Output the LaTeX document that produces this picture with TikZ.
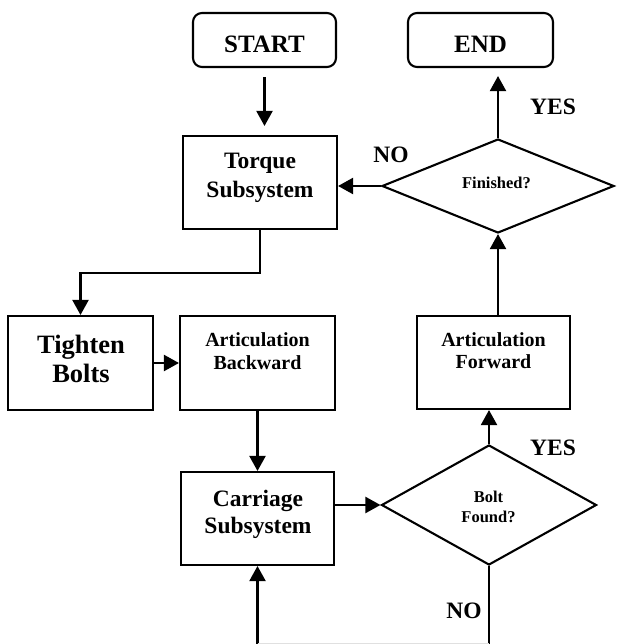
\documentclass[tikz,border=0pt]{standalone}
\usepackage{fontspec}
\setmainfont{Liberation Serif}
\usetikzlibrary{shapes.geometric,arrows.meta}
\begin{document}
\begin{tikzpicture}[x=1pt,y=-1pt,
  line width=2.1pt,
  proc/.style={draw,rectangle,inner sep=0pt},
  term/.style={draw,rectangle,rounded corners=9pt,inner sep=0pt,minimum height=54pt},
  dec/.style={draw,diamond,inner sep=0pt},
  arr/.style={-{Triangle[length=15pt,width=16pt]}},
  txt/.style={anchor=base,inner sep=0pt,font=\bfseries\fontsize{#1}{#1}\selectfont},
  txt/.default=20
]
\useasboundingbox (0,0) rectangle (616,644);
% shapes
\node[term,minimum width=143pt] (start) at (264.5,40) {};
\node[term,minimum width=145pt] (endb) at (480.5,40) {};
\node[proc,minimum width=154pt,minimum height=93pt] (torque) at (260,182.5) {};
\node[proc,minimum width=145pt,minimum height=94pt] (tight) at (80.5,363) {};
\node[proc,minimum width=155pt,minimum height=94pt] (ab) at (257.5,363) {};
\node[proc,minimum width=153pt,minimum height=93pt] (af) at (493.5,362.5) {};
\node[proc,minimum width=153pt,minimum height=93pt] (carr) at (257.5,518.5) {};
\node[dec,minimum width=232pt,minimum height=94pt] (fin) at (498,186) {};
\node[dec,minimum width=215pt,minimum height=120pt] (bolt) at (489,505) {};
% texts
\node[txt=25] (tstart) at (264.5,53) {START};
\node[txt=25] (tend) at (480.5,53) {END};
\node[txt=23.5] (tq1) at (260,169) {Torque};
\node[txt=23.5] (tq2) at (260,197) {Subsystem};
\node[txt=26.5] (tb1) at (81,353) {Tighten};
\node[txt=26.5] (tb2) at (81,382) {Bolts};
\node[txt=20] (ab1) at (257.5,346) {Articulation};
\node[txt=20] (ab2) at (257.5,369) {Backward};
\node[txt=20] (af1) at (493.5,346) {Articulation};
\node[txt=20] (af2) at (493.5,368) {Forward};
\node[txt=23.5] (cs1) at (258,506) {Carriage};
\node[txt=23.5] (cs2) at (258,533) {Subsystem};
\node[txt=16.5] (fq) at (496.5,189) {Finished?};
\node[txt=16.5] (bq1) at (488.5,502) {Bolt};
\node[txt=16.5] (bq2) at (488.5,522) {Found?};
\node[txt=23.5] (yes1) at (553,115) {YES};
\node[txt=23.5] (no1) at (391,163) {NO};
\node[txt=23.5] (yes2) at (553,455) {YES};
\node[txt=23.5] (no2) at (464,618) {NO};
% helper coordinates
\coordinate (bend) at (0,273);
\coordinate (bot) at (0,644);
\coordinate (botl) at (0,643.5);
% connectors
\draw[arr,shorten <=9pt,shorten >=9pt] (start.south) -- (start.south |- torque.north);
\draw[arr] (torque.south) -- (torque.south |- bend) -| (tight.north);
\draw[arr] (tight.east) -- (ab.west);
\draw[arr] (ab.south) -- (carr.north);
\draw[arr] (carr.east |- bolt.west) -- (bolt.west);
\draw[arr] (bolt.north) -- (bolt.north |- af.south);
\draw[arr] (fin.south |- af.north) -- (fin.south);
\draw[arr] (fin.west) -- (fin.west -| torque.east);
\draw[arr,shorten >=8pt] (fin.north) -- (fin.north |- endb.south);
\draw (bolt.south) -- (bolt.south |- bot);
\draw[arr] (carr.south |- bot) -- (carr.south);
\draw[black!12,line width=1pt] (carr.south |- botl) -- (bolt.south |- botl);
\end{tikzpicture}
\end{document}
